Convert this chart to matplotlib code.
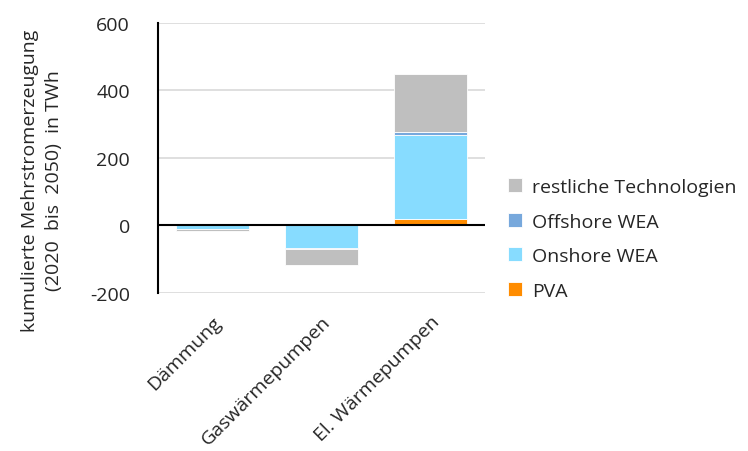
import matplotlib.pyplot as plt
import numpy as np

plt.rcParams['font.family'] = ['Open Sans', 'DejaVu Sans']

# Data (TWh, cumulative 2020-2050)
categories = ['Dämmung', 'Gaswärmepumpen', 'El. Wärmepumpen']
series_names = ['PVA', 'Onshore WEA', 'Offshore WEA', 'restliche Technologien']
pva = [0, 0, 18]
onshore = [-11, -68, 251]
offshore = [-1, -2, 9]
rest = [-6, -47, 170]
colors = ['#FF8C00', '#87DCFF', '#77A8DC', '#BFBFBF']

fig = plt.figure(figsize=(7.48, 4.52), dpi=100)
ax = fig.add_axes([0.211, 0.350, 0.437, 0.597])

x = np.arange(len(categories))
pos_bottom = np.zeros(len(categories))
neg_bottom = np.zeros(len(categories))
handles = []
for name, vals, col in zip(series_names, [pva, onshore, offshore, rest], colors):
    vals = np.array(vals, dtype=float)
    bottom = np.where(vals >= 0, pos_bottom, neg_bottom)
    h = ax.bar(x, vals, bottom=bottom, width=0.67, color=col,
               edgecolor='white', linewidth=0.6, label=name, zorder=3)
    handles.append(h)
    pos_bottom += np.where(vals >= 0, vals, 0)
    neg_bottom += np.where(vals < 0, vals, 0)

ax.set_xlim(-0.5, 2.5)
ax.set_ylim(-200, 600)
ax.set_yticks([-200, 0, 200, 400, 600])
ax.set_yticklabels(['-200', '0', '200', '400', '600'])
ax.grid(axis='y', color='#D9D9D9', linewidth=1.2, zorder=0)
ax.axhline(0, color='black', linewidth=1.5, zorder=4)

for s in ['top', 'right', 'bottom']:
    ax.spines[s].set_visible(False)
ax.spines['left'].set_color('black')
ax.spines['left'].set_linewidth(1.5)

fs = 14
ax.set_xticks(x)
ax.set_xticklabels(categories, rotation=45, ha='right', rotation_mode='anchor',
                   fontsize=fs, color='#262626')
ax.tick_params(axis='x', length=0, pad=14)
ax.tick_params(axis='y', length=0, labelsize=fs, labelcolor='#262626', pad=20)

# y axis title, placed like the original
fig.text(0.056, 0.60, 'kumulierte Mehrstromerzeugung\n(2020  bis  2050)  in TWh',
         rotation=90, ha='center', va='center', multialignment='center',
         fontsize=fs, color='#262626', linespacing=1.45)

leg = ax.legend(handles[::-1], series_names[::-1], loc='center left',
                bbox_to_anchor=(1.07, 0.2), frameon=False, fontsize=fs,
                handlelength=0.75, handleheight=0.75, handletextpad=0.5,
                labelspacing=0.85, labelcolor='#262626',
                borderaxespad=0, borderpad=0)

fig.savefig('out.png', dpi=100)
